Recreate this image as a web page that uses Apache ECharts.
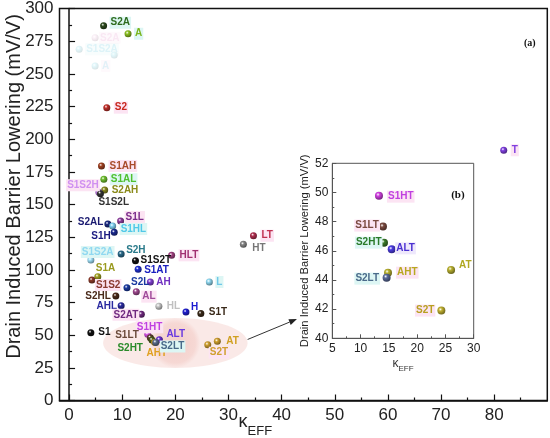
<!DOCTYPE html>
<html><head><meta charset="utf-8">
<script src="https://cdn.jsdelivr.net/npm/echarts@6/dist/echarts.min.js"></script>
<style>html,body{margin:0;padding:0;background:#fff}#c{width:550px;height:438px}</style>
</head><body><div id="c"></div>
<script>
// ---------- data ----------
const mainNames = ['S2A','A','S2','S1AH','S1AL','S2AH','S1S2H','S1S2L','S1L','S2AL','S1HL','S1H','S1S2A','S2H','S1S2T','HLT','HT','LT','S1AT','S1A','S1S2','S2L','AH','L','S2HL','AL','AHL','HL','H','S1T','S2AT','S1','S1HT','S1LT','S2HT','AHT','ALT','S2LT','AT','S2T','T'];
const mainKeff = [6.5,11.1,7.1,6.1,6.55,6.7,5.6,5.9,9.7,7.3,8.2,8.5,4.1,9.8,12.5,19.3,32.8,34.7,13.0,5.4,4.3,10.9,15.3,26.4,8.8,12.65,9.8,16.9,22.0,24.8,13.6,4.1,14.8,15.3,15.6,16.1,17.0,16.3,27.9,26.1,81.8];
const mainDibl = [286.8,280.7,224.1,179.5,169.3,161.1,159.3,158.3,137.4,135.1,133.5,128.7,107.5,112.1,107.0,111.1,119.5,126.1,100.4,94.8,92.2,86.3,90.7,90.7,80.0,83.3,72.6,72.1,67.7,66.5,66.0,51.9,50.7,48.1,46.3,44.5,46.5,44.4,45.3,42.7,191.5];

const ghostNames = ['S2A','S1S2A','','A'];
const ghostKeff = [4.9,1.9,8.5,4.9];
const ghostDibl = [277.6,268.8,264.4,256.0];

const insetNames = ['S1HT','S1LT','S2HT','ALT','AHT','S2LT','AT','S2T'];
const insetKeff = [13.25,13.96,14.14,15.5,14.85,14.6,26.0,24.28];
const insetDibl = [49.78,47.66,46.56,46.1,44.5,44.16,44.69,41.9];

const mainXLabels = [0,10,20,30,40,50,60,70,80];
const mainXMinor = [5,15,25,35,45,55,65,75,85];

// ---------- styles (point colour, label colour, anchor, dx, dy, background) ----------
const PINK = '#fce4f3', CYAN = '#ddf6f4';
const mainStyle = {
  S2A:['#2d4a1e','#2e6b1e','l',6,-3,CYAN], A:['#8cc020','#7ab51c','l',6,0,CYAN],
  S2:['#c0302a','#c8281e','l',7,0,PINK], S1AH:['#a04020','#a84a2a','l',7,0,PINK],
  S1AL:['#70c030','#50c030','l',6,0,CYAN], S2AH:['#8a8a20','#8a8a1a','l',6,0,null],
  S1S2H:['#c080e0','#d090f0','r',1,-7,PINK], S1S2L:['#333333','#333333','l',-3,9,null],
  S1L:['#8a3a9a','#7a2a8a','l',4,-4,PINK], S2AL:['#1a2a80','#1a1a70','r',-3.5,-1.5,null],
  S1HL:['#80d0f0','#50c8e8','l',7,3,CYAN], S1H:['#1a2a90','#1a1a80','r',-2.5,4,null],
  S1S2A:['#a0e0f8','#90d8f0','l',-10,-8,CYAN], S2H:['#2a6a8a','#2a7a8a','l',4,-4,null],
  S1S2T:['#111111','#111111','l',4,0,null], HLT:['#a04080','#a03070','l',7,0,PINK],
  HT:['#888888','#777777','l',8,4,null], LT:['#b03050','#c03050','l',7,0,PINK],
  S1AT:['#2030d0','#1a20c0','l',5,1,null], S1A:['#a0a020','#9a9a20','l',-3,-8,null],
  S1S2:['#8a3a2a','#8a3a30','l',3,5,PINK], S2L:['#1a3aa0','#1a3aa0','l',3,-5,null],
  AH:['#8040d0','#7030c0','l',5,0,null], L:['#90d8f0','#70c8e8','l',6,0,CYAN],
  S2HL:['#4a2a1a','#4a2a1a','r',-4,0,null], AL:['#a04a90','#a04a9a','l',5,5,PINK],
  AHL:['#2a2aa0','#2a2aa0','r',-3,1,null], HL:['#c8c8c8','#c0c0c0','l',7,0,null],
  H:['#2020d0','#1a1ad0','l',4,-5,null], S1T:['#3a2a1a','#3a2a1a','l',7,-1,null],
  S2AT:['#702a80','#702a80','r',-2,0.5,PINK], S1:['#111111','#111111','l',6.5,0,null],
  S1HT:['#d050e0','#c040e0','l',-12,-7,PINK], S1LT:['#5a3a2a','#6a4a3a','r',-10.5,-2.5,null],
  S2HT:['#4a5a1a','#2a8a2a','r',-8,8,null], AHT:['#d0a020','#e0a020','l',-9,11,null],
  ALT:['#6a30d0','#6a3ae0','l',6,-5,null], S2LT:['#5a6a8a','#4a6a8a','l',4,4,CYAN],
  AT:['#d0a030','#d0a020','l',8,0,null], S2T:['#d0a030','#d0a030','l',1,8,PINK],
  T:['#8040e0','#8040e0','l',7,0,PINK]
};
const ghostStyle = {
  'S2A':['#f0c0e0','#e8a8d8','l',4,0,PINK], 'S1S2A':['#80e0f0','#80d0e8','l',6,0,CYAN],
  '':['#80e0f0','#80d0e8','l',0,0,null], 'A':['#80e0f0','#80d0e8','l',6,0,PINK]
};
const insetStyle = {
  S1HT:['#d040e0','#c040e0','l',8,1,PINK], S1LT:['#7a4a40','#7a4a40','r',-3,-1,PINK],
  S2HT:['#3a7a2a','#2a7a2a','r',-1.5,0,CYAN], ALT:['#4a3ae0','#4a30d0','l',3.5,-1,'#eee8fc'],
  AHT:['#b8b030','#b8a820','l',8,0,PINK], S2LT:['#5a6a9a','#4a6a8a','r',-6.5,1,CYAN],
  AT:['#b8b030','#b0a820','l',7,-5,null], S2T:['#c0b030','#b8a020','r',-6,0,PINK]
};

function shade(hex, f){
  const n = parseInt(hex.slice(1),16);
  const r=(n>>16)&255,g=(n>>8)&255,b=n&255;
  const c=v=>Math.max(0,Math.min(255,Math.round(v*f)));
  return 'rgb('+c(r)+','+c(g)+','+c(b)+')';
}
function ball(c){
  return {type:'radial',x:0.38,y:0.35,r:0.75,colorStops:[
    {offset:0,color:'#ffffff'},{offset:0.28,color:c},{offset:1,color:shade(c,0.5)}]};
}
const FONT = "'Liberation Sans', Arial, sans-serif";
function buildData(names, xs, ys, styles, size, opacity){
  return names.map((n,i)=>{
    const s = styles[n];
    const h = size/2;
    return {
      name:n, value:[xs[i], ys[i]],
      itemStyle:{color:ball(s[0]), opacity:opacity},
      label:{show:n!=='', formatter:n, position:[h+s[3], h+s[4]],
        align: s[2]==='l'?'left':(s[2]==='r'?'right':'center'), verticalAlign:'middle',
        color:s[1], fontSize:10, fontWeight:'bold', fontFamily:FONT,
        backgroundColor:s[5]||'transparent', padding:[1,1], opacity:opacity}
    };
  });
}

const chart = echarts.init(document.getElementById('c'), null, {renderer:'canvas'});
const axisLineMain = {show:true, lineStyle:{color:'#111', width:1.5}};
const option = {
  animation:false,
  backgroundColor:'#fff',
  grid:[
    {left:59.5, top:8.5, right:2.7, bottom:37.5, outerBoundsMode:'none', containLabel:false, show:true, borderColor:'#111', borderWidth:1.5, backgroundColor:'transparent'},
    {left:332.3, top:163.3, width:141.4, height:175, outerBoundsMode:'none', containLabel:false, show:true, borderColor:'#555', borderWidth:1, backgroundColor:'#fff'}
  ],
  xAxis:[
    {gridIndex:0, type:'value', min:-1.8, max:90, position:'bottom',
     axisLine:axisLineMain, splitLine:{show:false},
     axisTick:{show:true, inside:true, length:6, customValues:mainXLabels, lineStyle:{color:'#111',width:1.2}},
     axisLabel:{show:true, customValues:mainXLabels, fontSize:17, color:'#222', fontFamily:FONT, margin:6},
     name:'{k|κ}{s|EFF}', nameLocation:'middle', nameGap:13, nameMoveOverlap:false,
     nameTextStyle:{padding:[0,96,0,0], rich:{k:{fontSize:18, color:'#222', fontFamily:FONT, lineHeight:20, verticalAlign:'top'},
                          s:{fontSize:13, color:'#222', fontFamily:FONT, lineHeight:13, padding:[11,0,0,0], verticalAlign:'top'}}}},
    {gridIndex:0, type:'value', min:-1.8, max:90, position:'bottom',
     axisLine:{show:false}, splitLine:{show:false},
     axisTick:{show:true, inside:true, length:3, customValues:mainXMinor, lineStyle:{color:'#111',width:1.2}},
     axisLabel:{show:false}},
    {gridIndex:1, type:'value', min:5, max:30, interval:5, position:'bottom',
     axisLine:{show:true, lineStyle:{color:'#555', width:1}}, splitLine:{show:false},
     axisTick:{show:true, inside:true, length:4, lineStyle:{color:'#555'}},
     minorTick:{show:true, splitNumber:2, length:2, lineStyle:{color:'#555'}},
     axisLabel:{fontSize:12, color:'#222', fontFamily:FONT, margin:4},
     name:'{k|κ}{s|EFF}', nameLocation:'middle', nameGap:19, nameMoveOverlap:false,
     nameTextStyle:{rich:{k:{fontSize:12, color:'#333', fontFamily:FONT, lineHeight:13, verticalAlign:'top'},
                          s:{fontSize:8, color:'#333', fontFamily:FONT, lineHeight:8, padding:[7,0,0,0], verticalAlign:'top'}}}}
  ],
  yAxis:[
    {gridIndex:0, type:'value', min:0, max:300, interval:25,
     axisLine:axisLineMain, splitLine:{show:false},
     axisTick:{show:true, inside:true, length:6, lineStyle:{color:'#111',width:1.2}},
     minorTick:{show:true, splitNumber:2, length:3, lineStyle:{color:'#111',width:1.2}},
     axisLabel:{fontSize:17, color:'#222', fontFamily:FONT, margin:6},
     name:'Drain Induced Barrier Lowering (mV/V)', nameLocation:'middle', nameGap:35, nameMoveOverlap:false,
     nameTextStyle:{fontSize:20, color:'#222', fontFamily:FONT, padding:[0,0,0,36]}},
    {gridIndex:1, type:'value', min:40, max:52, interval:2,
     axisLine:{show:true, lineStyle:{color:'#555', width:1}}, splitLine:{show:false},
     axisTick:{show:true, inside:true, length:4, lineStyle:{color:'#555'}},
     minorTick:{show:true, splitNumber:2, length:2, lineStyle:{color:'#555'}},
     axisLabel:{fontSize:12, color:'#222', fontFamily:FONT, margin:4},
     name:'Drain Induced Barrier Lowering (mV/V)', nameLocation:'middle', nameGap:22, nameMoveOverlap:false,
     nameTextStyle:{fontSize:11.2, color:'#222', fontFamily:FONT}}
  ],
  series:[
    {type:'scatter', name:'ghost', xAxisIndex:0, yAxisIndex:0, symbolSize:7, z:3,
     data:buildData(ghostNames, ghostKeff, ghostDibl, ghostStyle, 7, 0.22)},
    {type:'scatter', name:'main', xAxisIndex:0, yAxisIndex:0, symbolSize:7, z:4,
     data:buildData(mainNames, mainKeff, mainDibl, mainStyle, 7, 1)},
    {type:'scatter', name:'inset', xAxisIndex:2, yAxisIndex:1, symbolSize:8, z:4,
     data:buildData(insetNames, insetKeff, insetDibl, insetStyle, 8, 1)}
  ]
};
chart.setOption(option);

// annotations placed from data coordinates
const ec = chart.convertToPixel({xAxisIndex:0, yAxisIndex:0}, [20.0, 44.0]);
const ex = chart.convertToPixel({xAxisIndex:0, yAxisIndex:0}, [33.6, 25.0]);
const ey = chart.convertToPixel({xAxisIndex:0, yAxisIndex:0}, [20.0, 63.1]);
const a0 = chart.convertToPixel({xAxisIndex:0, yAxisIndex:0}, [33.6, 46.7]);
const a1 = chart.convertToPixel({xAxisIndex:2, yAxisIndex:1}, [-1.25, 41.32]);
const ang = Math.atan2(a1[1]-a0[1], a1[0]-a0[0]);
const hl = 8, hw = 3;
const bx = a1[0]-hl*Math.cos(ang), by = a1[1]-hl*Math.sin(ang);
const head = [[a1[0],a1[1]],[bx+hw*Math.sin(ang), by-hw*Math.cos(ang)],[bx-hw*Math.sin(ang), by+hw*Math.cos(ang)]];
const lab = chart.convertToPixel({xAxisIndex:0, yAxisIndex:0}, [86.7, 273]);
const lbb = chart.convertToPixel({xAxisIndex:2, yAxisIndex:1}, [27.2, 49.8]);
chart.setOption({graphic:[
  {type:'ellipse', z:1, silent:true,
   shape:{cx:ec[0], cy:ec[1], rx:ex[0]-ec[0], ry:ec[1]-ey[1]},
   style:{fill:{type:'radial',x:0.5,y:0.5,r:0.5,colorStops:[{offset:0,color:'#f3cdc8'},{offset:0.8,color:'#f6d8d4'},{offset:1,color:'#fae9e7'}]}}},
  {type:'line', z:5, silent:true, shape:{x1:a0[0], y1:a0[1], x2:bx, y2:by}, style:{stroke:'#333', lineWidth:1}},
  {type:'polygon', z:5, silent:true, shape:{points:head}, style:{fill:'#222'}},
  {type:'text', z:6, x:lab[0], y:lab[1], style:{text:'(a)', font:"bold 10px 'Liberation Serif', 'Times New Roman', serif", fill:'#111', align:'center', verticalAlign:'middle'}},
  {type:'text', z:6, x:lbb[0], y:lbb[1], style:{text:'(b)', font:"bold 11px 'Liberation Serif', 'Times New Roman', serif", fill:'#111', align:'center', verticalAlign:'middle'}}
]});
</script></body></html>
